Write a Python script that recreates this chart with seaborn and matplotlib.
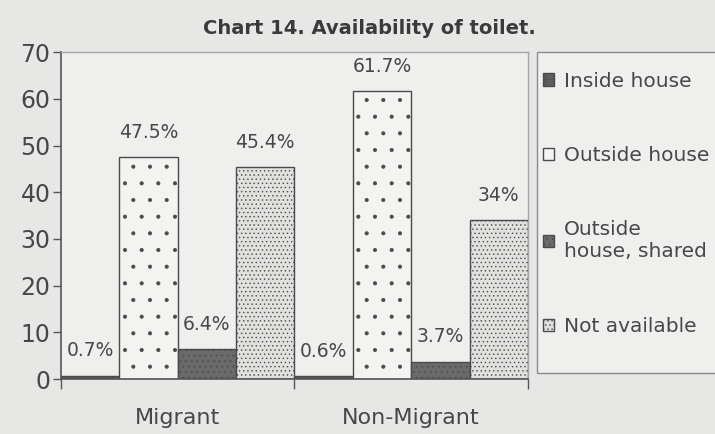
import matplotlib
matplotlib.use("Agg")
import matplotlib.pyplot as plt
import seaborn as sns
import pandas as pd
from matplotlib.patches import Rectangle
from matplotlib.ticker import FixedLocator

# ---- data ----
groups = ["Migrant", "Non-Migrant"]
toilet_types = ["Inside house", "Outside house", "Outside\nhouse, shared", "Not available"]
migrant_vals = [0.7, 47.5, 6.4, 45.4]
non_migrant_vals = [0.6, 61.7, 3.7, 34]
y_ticks = [0, 10, 20, 30, 40, 50, 60, 70]
title = "Chart 14. Availability of toilet."

rows = []
for g, vals in zip(groups, [migrant_vals, non_migrant_vals]):
    for t, v in zip(toilet_types, vals):
        rows.append({"group": g, "type": t, "value": v})
df = pd.DataFrame(rows)

sns.set_style("ticks")
plt.rcParams["font.family"] = ["DejaVu Sans"]
plt.rcParams["hatch.linewidth"] = 0.5

fig_bg = "#e7e7e5"
ax_bg = "#efefed"
txt = "#474747"
fig = plt.figure(figsize=(7.15, 4.34), dpi=100, facecolor=fig_bg)
ax = fig.add_axes([0.0853, 0.1267, 0.653, 0.753])
ax.set_facecolor(ax_bg)

face = {"Inside house": "#5e5e5e",
        "Outside house": "#f3f3f1",
        "Outside\nhouse, shared": "#6a6a6a",
        "Not available": "#e0e0de"}
hatches = ["++", ".", "...", "...."]
hatch_cols = ["#9a9a9a", "#8a8a8a", "#b0b0b0", "#808080"]

sns.barplot(data=df, x="group", y="value", hue="type", hue_order=toilet_types,
            order=groups, palette=face, width=1.0, edgecolor="#4a4a4a",
            linewidth=1.0, legend=False, ax=ax, saturation=1)

for cont, h, hc in zip(ax.containers, hatches, hatch_cols):
    for p in cont.patches:
        p.set_hatch(h)
        try:
            p.set_hatchcolor(hc)
        except AttributeError:
            pass
    ax.bar_label(cont, labels=[f"{v:g}%" for v in cont.datavalues],
                 padding=11, fontsize=13.5, color=txt)

ax.set_ylim(0, 70)
ax.set_xlim(-0.5, 1.5)
ax.set_yticks(y_ticks)
ax.set_xlabel("")
ax.set_ylabel("")
ax.tick_params(axis="y", labelsize=17, labelcolor=txt, length=5.5,
               width=1, color="#555555", pad=2, direction="out")
ax.tick_params(axis="x", which="major", labelsize=16, labelcolor=txt,
               length=0, pad=21)
ax.xaxis.set_minor_locator(FixedLocator([-0.5, 0.5, 1.5]))
ax.tick_params(axis="x", which="minor", length=7, width=1, color="#555555",
               direction="out")

for s in ["left", "bottom"]:
    ax.spines[s].set_color("#555555")
    ax.spines[s].set_linewidth(1.2)
for s in ["top", "right"]:
    ax.spines[s].set_color("#a5a5a5")
    ax.spines[s].set_linewidth(1.0)

# legend frame (extends past figure edge as in reference)
fig.patches.append(Rectangle((0.751, 0.141), 0.4, 0.739, transform=fig.transFigure,
                             facecolor=ax_bg, edgecolor="#8a8a8a", linewidth=1.0,
                             zorder=0))
handles = [c.patches[0] for c in ax.containers]
leg = fig.legend(handles, toilet_types, loc="upper left",
                 bbox_to_anchor=(0.760, 0.835), frameon=False, fontsize=14.5,
                 handlelength=0.55, handleheight=0.55, handletextpad=0.45,
                 labelspacing=2.75, borderpad=0, borderaxespad=0)
for t in leg.get_texts():
    t.set_color(txt)

fig.text(0.517, 0.935, title, ha="center", va="center", fontsize=14,
         fontweight="bold", color="#3a3a3a")

fig.savefig("out.png", dpi=100, facecolor=fig_bg)
